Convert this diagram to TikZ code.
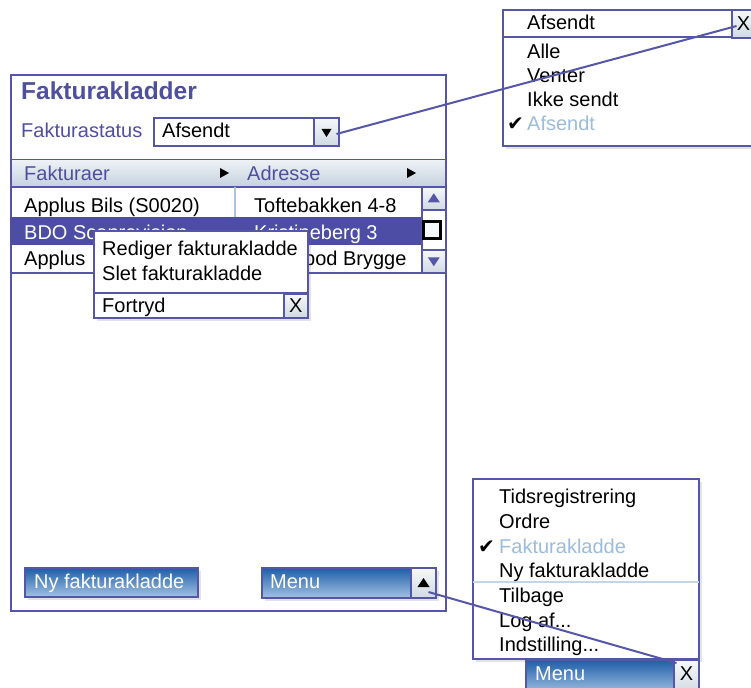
\documentclass[tikz,border=0pt]{standalone}
\usepackage{fontspec}
\setmainfont{Liberation Sans}
\newfontfamily\symfont{DejaVu Sans}
\usetikzlibrary{calc,shadows}

\definecolor{frame}{HTML}{5656A8}
\definecolor{titleblue}{HTML}{4F4FA0}
\definecolor{selrow}{HTML}{4D4DA5}
\definecolor{faded}{HTML}{9DBCDB}
\definecolor{divider}{HTML}{A9C5E0}
\definecolor{btntop}{HTML}{1F5EA8}
\definecolor{btnbot}{HTML}{A3C2E3}
\definecolor{greytop}{HTML}{F6F8FA}
\definecolor{greybot}{HTML}{D0D9E2}
\definecolor{hdrtop}{HTML}{EEF2F6}
\definecolor{hdrbot}{HTML}{C6D2DE}
\definecolor{sepline}{HTML}{C4D6E6}

\tikzset{
  panel/.style={draw=frame, line width=2pt, fill=white, inner sep=0pt, anchor=north west},
  inner/.style={draw=frame, line width=1.5pt, inner sep=0pt, anchor=north west},
  greybtn/.style={inner, top color=greytop, bottom color=greybot},
  bluebtn/.style={inner, line width=2pt, top color=btntop, bottom color=btnbot},
  softshadow/.style={drop shadow={shadow xshift=3pt, shadow yshift=-3pt, opacity=0.18, fill=black!60}},
  lbl/.style={anchor=base west, inner sep=0pt, font=\fontsize{20}{23}\selectfont},
  xlbl/.style={inner sep=0pt, font=\fontsize{20}{23}\selectfont},
  check/.style={anchor=base west, inner sep=0pt, font=\symfont\fontsize{20}{22}\selectfont},
  link/.style={draw=frame, line width=2pt},
  tri/.style={fill=black}
}

\begin{document}
\begin{tikzpicture}[x=1pt,y=-1pt]
\clip (0,0) rectangle (751,687);
\fill[white] (0,0) rectangle (751,687);

% ---------- main window ----------
\node[panel, minimum width=435pt, minimum height=536pt] (main) at (10,74) {};
\node[lbl, font=\bfseries\fontsize{24.5}{28}\selectfont, text=titleblue] (title) at (21,100) {Fakturakladder};

% status selector
\node[lbl, text=titleblue] (statuslbl) at (21,138) {Fakturastatus};
\node[inner, line width=2pt, fill=white, minimum width=185pt, minimum height=28pt] (combo) at (153,117) {};
\node[greybtn, line width=2pt, minimum width=25pt, minimum height=28pt] (combobtn) at (313,117) {};
\node[lbl] (combotxt) at (162,138) {Afsendt};
\fill[tri] ($(combobtn.center)+(-5,-3)$) -- ++(10,0) -- ++(-5,8) -- cycle;

% column header
\node[inner, top color=hdrtop, bottom color=hdrbot, minimum width=435pt, minimum height=27pt] (hdr) at (10,159) {};
\node[lbl, text=titleblue] (hdrA) at (24,180) {Fakturaer};
\node[lbl, text=titleblue] (hdrB) at (247,180) {Adresse};
\fill[tri] (220,168) -- ++(0,10) -- ++(9,-5) -- cycle;
\fill[tri] (407,168) -- ++(0,10) -- ++(9,-5) -- cycle;

% list rows
\node[inner, fill=white, minimum width=435pt, minimum height=86pt] (list) at (10,186) {};
\node[fill=selrow, inner sep=0pt, anchor=north west, minimum width=411pt, minimum height=28pt] (selrow) at (10,217) {};
\draw[divider, line width=1.2pt] (235,187) -- (235,217) (235,245) -- (235,271);
\node[lbl] (r1a) at (24,212) {Applus Bils (S0020)};
\node[lbl] (r1b) at (254,212) {Toftebakken 4-8};
\node[lbl, text=white] (r2a) at (24,239) {BDO Scanrevision};
\node[lbl, text=white] (r2b) at (254,239) {Kristineberg 3};
\node[lbl] (r3a) at (24,265) {Applus};
\node[lbl] (r3b) at (254,265) {Kalvebod Brygge};

% scrollbar
\node[inner, fill=white, minimum width=24pt, minimum height=86pt] (sbar) at (421,186) {};
\node[greybtn, minimum width=24pt, minimum height=23pt] (sup) at (421,186) {};
\node[greybtn, minimum width=24pt, minimum height=23pt] (sdown) at (421,249) {};
\fill[frame] ($(sup.center)+(-6,4)$) -- ++(12,0) -- ++(-6,-9) -- cycle;
\fill[frame] ($(sdown.center)+(-6,-4)$) -- ++(12,0) -- ++(-6,9) -- cycle;
\node[draw=black, line width=2.2pt, fill=greytop, minimum size=17pt, inner sep=0pt] (thumb) at (432,230) {};

% context popup
\node[inner, fill=white, softshadow, minimum width=214pt, minimum height=87pt] (popup) at (93,230) {};
\draw[frame, line width=1.5pt] (popup.west |- 0,293) -- (popup.east |- 0,293);
\node[greybtn, minimum width=24pt, minimum height=24pt] (popx) at (283,293) {};
\node[xlbl] at (popx.center) {X};
\node[lbl] (pedit) at (102,255) {Rediger fakturakladde};
\node[lbl] (pdel) at (102,280) {Slet fakturakladde};
\node[lbl] (pundo) at (102,312) {Fortryd};

% bottom buttons
\node[bluebtn, softshadow, minimum width=173pt, minimum height=29pt] (newbtn) at (24,567) {};
\node[lbl, text=white] at (34,588) {Ny fakturakladde};
\node[bluebtn, softshadow, minimum width=174pt, minimum height=30pt] (menubtn) at (261,567) {};
\node[greybtn, line width=2pt, minimum width=25pt, minimum height=30pt] (menuarr) at (410,567) {};
\node[lbl, text=white] at (270,588) {Menu};
\fill[tri] ($(menuarr.center)+(-6,4)$) -- ++(12,0) -- ++(-6,-9) -- cycle;

% ---------- status drop-down ----------
\node[panel, softshadow, minimum width=258pt, minimum height=136pt] (dd) at (502,9) {};
\draw[frame, line width=2pt] (dd.west |- 0,37) -- (dd.east |- 0,37);
\node[greybtn, line width=2pt, minimum width=29pt, minimum height=28pt] (ddx) at (731,9) {};
\node[xlbl] at ($(ddx.center)+(-3,0)$) {X};
\node[lbl] (ddhead) at (527,30) {Afsendt};
\node[lbl] (dd1) at (527,59) {Alle};
\node[lbl] (dd2) at (527,83) {Venter};
\node[lbl] (dd3) at (527,107) {Ikke sendt};
\node[check] (ddchk) at (507,131) {✔};
\node[lbl, text=faded] (dd4) at (527,131) {Afsendt};

% ---------- main menu ----------
\node[panel, softshadow, minimum width=226pt, minimum height=180pt] (bm) at (472,478) {};
\draw[sepline, line width=1.2pt] ($(bm.west |- 0,582)+(1,0)$) -- ($(bm.east |- 0,582)+(-1,0)$);
\node[lbl] (m1) at (499,503) {Tidsregistrering};
\node[lbl] (m2) at (499,528) {Ordre};
\node[check] (mchk) at (478,553) {✔};
\node[lbl, text=faded] (m3) at (499,553) {Fakturakladde};
\node[lbl] (m4) at (499,577) {Ny fakturakladde};
\node[lbl] (m5) at (499,602) {Tilbage};
\node[lbl] (m6) at (499,627) {Log af...};
\node[lbl] (m7) at (499,651) {Indstilling...};
\node[bluebtn, minimum width=148pt, minimum height=34pt] (bmbtn) at (525,659) {};
\node[greybtn, line width=2pt, minimum width=25pt, minimum height=34pt] (bmx) at (673,659) {};
\node[lbl, text=white] at (535,680) {Menu};
\node[xlbl] at ($(bmx.center)+(0,-3)$) {X};

% ---------- connectors ----------
\draw[link] ($(combobtn.center)+(10,2)$) -- ($(ddx.center)+(-10,2)$);
\draw[link] ($(menuarr.center)+(5,9)$) -- ($(bmx.center)+(-10,-14)$);
\end{tikzpicture}
\end{document}
